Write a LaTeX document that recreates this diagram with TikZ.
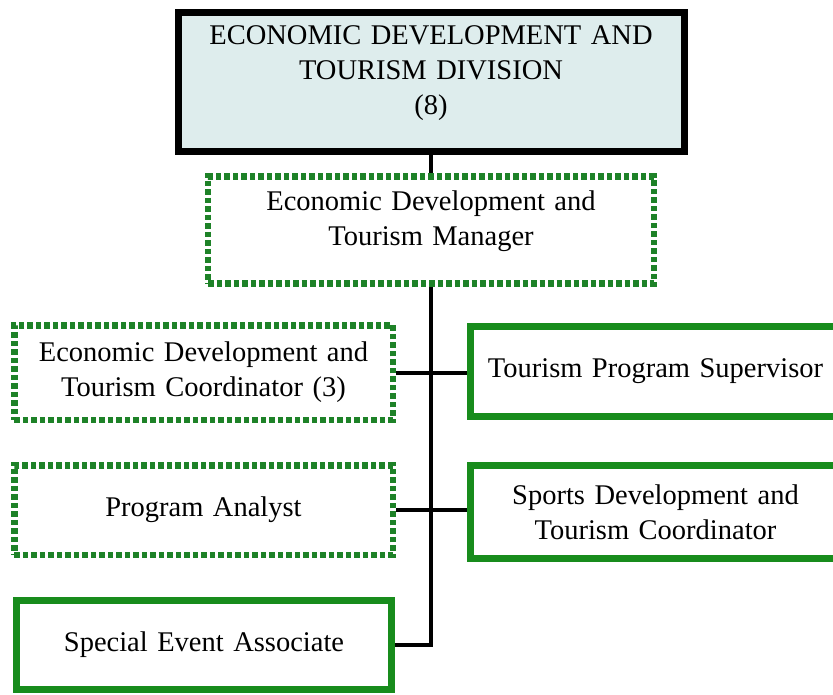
\documentclass[tikz,border=0pt]{standalone}
\usepackage{fontspec}
\setmainfont{Liberation Serif}
\usepackage{xcolor}
\definecolor{orgGreen}{RGB}{24,140,28}
\definecolor{orgDotted}{RGB}{30,130,40}
\definecolor{divFill}{RGB}{222,237,237}
\tikzset{
  post/.style={draw=orgGreen, line width=7pt, fill=white, align=center, inner sep=0pt},
  vacant/.style={draw=orgDotted, line width=6.5pt, dash pattern=on 5.5pt off 3pt, fill=white, align=center, inner sep=0pt},
  division/.style={draw=black, line width=7pt, fill=divFill, align=center, inner sep=0pt},
  link/.style={draw=black, line width=4pt}
}
\begin{document}
\begin{tikzpicture}[x=1pt,y=-1pt]
        \tikzstyle{every node}=[font=\fontsize{28.5}{35}\selectfont]
        \useasboundingbox (0,0) rectangle (833,694);
        \clip (0,0) rectangle (833,694);
        % boxes
        \node[division,minimum width=506pt,minimum height=139pt,text width=480pt,text height=19pt,text depth=94pt] (div) at (431,82) {ECONOMIC DEVELOPMENT AND\\ TOURISM DIVISION\\ (8)};
        \node[vacant,minimum width=446pt,minimum height=107pt,text width=420pt,text height=19pt,text depth=59pt] (mgr) at (431,230) {Economic Development and\\ Tourism Manager};
        \node[vacant,minimum width=378.5pt,minimum height=94.5pt,text width=360pt] (coord) at (203.5,372.5) {Economic Development and\\ Tourism Coordinator (3)};
        \node[vacant,minimum width=378.5pt,minimum height=89.5pt,text width=360pt] (analyst) at (203.5,510) {Program Analyst};
        \node[post,minimum width=375pt,minimum height=89pt,text width=360pt] (spec) at (204,645) {Special Event Associate};
        \node[post,minimum width=370pt,minimum height=90pt,text width=360pt] (sup) at (655.5,371.5) {Tourism Program Supervisor};
        \node[post,minimum width=370pt,minimum height=93pt,text width=360pt] (sports) at (655.5,512) {Sports Development and\\ Tourism Coordinator};
        % lines
        \draw[link] (div) -- (mgr);
        \draw[link] (mgr.south) |- (spec.east);
        \draw[link] (coord.east) -- (coord.east -| sup.west);
        \draw[link] (analyst.east) -- (analyst.east -| sports.west);
\end{tikzpicture}
\end{document}
